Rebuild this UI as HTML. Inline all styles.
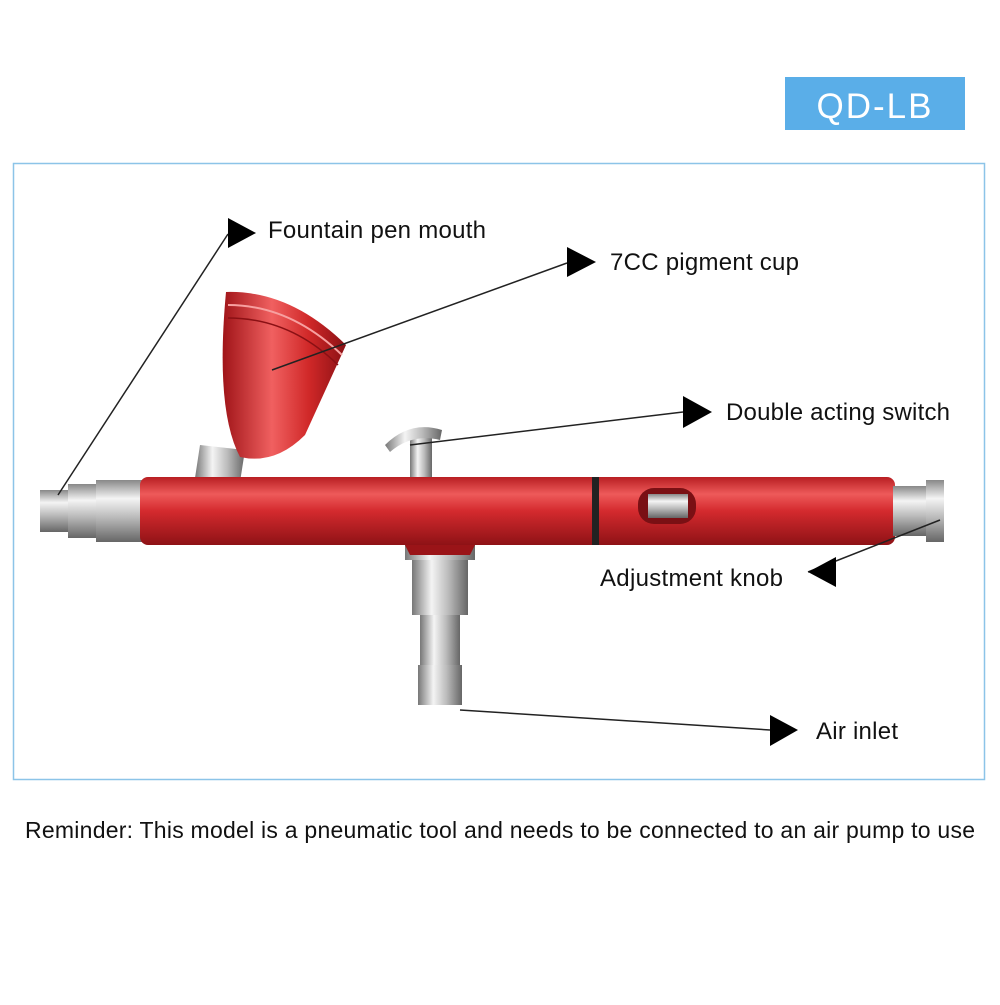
<!DOCTYPE html>
<html><head><meta charset="utf-8"><style>
body{margin:0;background:#fff;width:1000px;height:1000px;overflow:hidden;font-family:"Liberation Sans",sans-serif}
</style></head><body>
<svg width="1000" height="1000" viewBox="0 0 1000 1000" xmlns="http://www.w3.org/2000/svg" font-family="Liberation Sans, sans-serif">
<defs>
<linearGradient id="red" x1="0" y1="0" x2="0" y2="1">
<stop offset="0" stop-color="#b81e22"/><stop offset="0.25" stop-color="#ee5a5a"/><stop offset="0.5" stop-color="#d42a2e"/><stop offset="1" stop-color="#8e1216"/></linearGradient>
<linearGradient id="redv" x1="0" y1="0" x2="1" y2="0">
<stop offset="0" stop-color="#a01418"/><stop offset="0.4" stop-color="#f06060"/><stop offset="0.7" stop-color="#d02828"/><stop offset="1" stop-color="#8a1014"/></linearGradient>
<linearGradient id="sil" x1="0" y1="0" x2="0" y2="1">
<stop offset="0" stop-color="#888"/><stop offset="0.3" stop-color="#f4f4f4"/><stop offset="0.6" stop-color="#bbb"/><stop offset="1" stop-color="#666"/></linearGradient>
<linearGradient id="silv" x1="0" y1="0" x2="1" y2="0">
<stop offset="0" stop-color="#777"/><stop offset="0.35" stop-color="#f4f4f4"/><stop offset="0.65" stop-color="#bbb"/><stop offset="1" stop-color="#666"/></linearGradient>
</defs>
<rect x="785" y="77" width="180" height="53" fill="#5aaee8"/>
<text x="875" y="118" font-size="35" fill="#fff" text-anchor="middle" letter-spacing="2">QD-LB</text>
<rect x="13.5" y="163.5" width="971" height="616" fill="none" stroke="#8cc4e8" stroke-width="1.5"/>
<rect x="40" y="490" width="30" height="42" fill="url(#sil)"/>
<rect x="68" y="484" width="30" height="54" fill="url(#sil)"/>
<rect x="96" y="480" width="46" height="62" fill="url(#sil)"/>
<path d="M200 445 L245 450 L240 482 L195 478 Z" fill="url(#silv)"/>
<path d="M226 292 Q290 290 346 345 L305 435 Q275 465 240 457 Q215 410 226 292 Z" fill="url(#redv)"/>
<path d="M228 305 Q290 305 342 355" stroke="#f7a0a0" stroke-width="2" fill="none"/>
<path d="M228 318 Q290 318 338 365" stroke="#8a1014" stroke-width="1.5" fill="none"/>
<rect x="410" y="435" width="22" height="45" fill="url(#silv)"/>
<path d="M385 445 Q410 420 442 430 L440 440 Q412 433 390 452 Z" fill="url(#silv)"/>
<rect x="405" y="540" width="70" height="20" fill="url(#silv)"/>
<rect x="412" y="560" width="56" height="55" fill="url(#silv)"/>
<rect x="420" y="615" width="40" height="50" fill="url(#silv)"/>
<rect x="418" y="665" width="44" height="40" fill="url(#silv)"/>
<rect x="140" y="477" width="755" height="68" rx="8" fill="url(#red)"/>
<path d="M405 545 L475 545 L470 555 L410 555 Z" fill="#9a1418"/>
<rect x="592" y="477" width="7" height="68" fill="#222"/>
<rect x="638" y="488" width="58" height="36" rx="16" fill="#7a1014"/>
<rect x="648" y="494" width="40" height="24" fill="url(#sil)"/>
<rect x="893" y="486" width="35" height="50" fill="url(#sil)"/>
<rect x="926" y="480" width="18" height="62" fill="url(#sil)"/>
<g stroke="#222" stroke-width="1.5" fill="none">
<line x1="228" y1="234" x2="58" y2="495"/>
<line x1="567" y1="263" x2="272" y2="370"/>
<line x1="683" y1="412" x2="410" y2="445"/>
<line x1="808" y1="572" x2="940" y2="520"/>
<line x1="770" y1="730" x2="460" y2="710"/>
</g>
<g fill="#000">
<polygon points="228,218 256,233 228,248"/>
<polygon points="567,247 596,262 567,277"/>
<polygon points="683,396 712,412 683,428"/>
<polygon points="836,557 808,572 836,587"/>
<polygon points="770,715 798,730 770,746"/>
</g>
<g font-size="24" fill="#111">
<text x="268" y="238" textLength="218">Fountain pen mouth</text>
<text x="610" y="270" textLength="189">7CC pigment cup</text>
<text x="726" y="420" textLength="224">Double acting switch</text>
<text x="600" y="586" textLength="183">Adjustment knob</text>
<text x="816" y="739" textLength="82">Air inlet</text>
<text x="25" y="838" font-size="23" textLength="950">Reminder: This model is a pneumatic tool and needs to be connected to an air pump to use</text>
</g>
</svg>
</body></html>
